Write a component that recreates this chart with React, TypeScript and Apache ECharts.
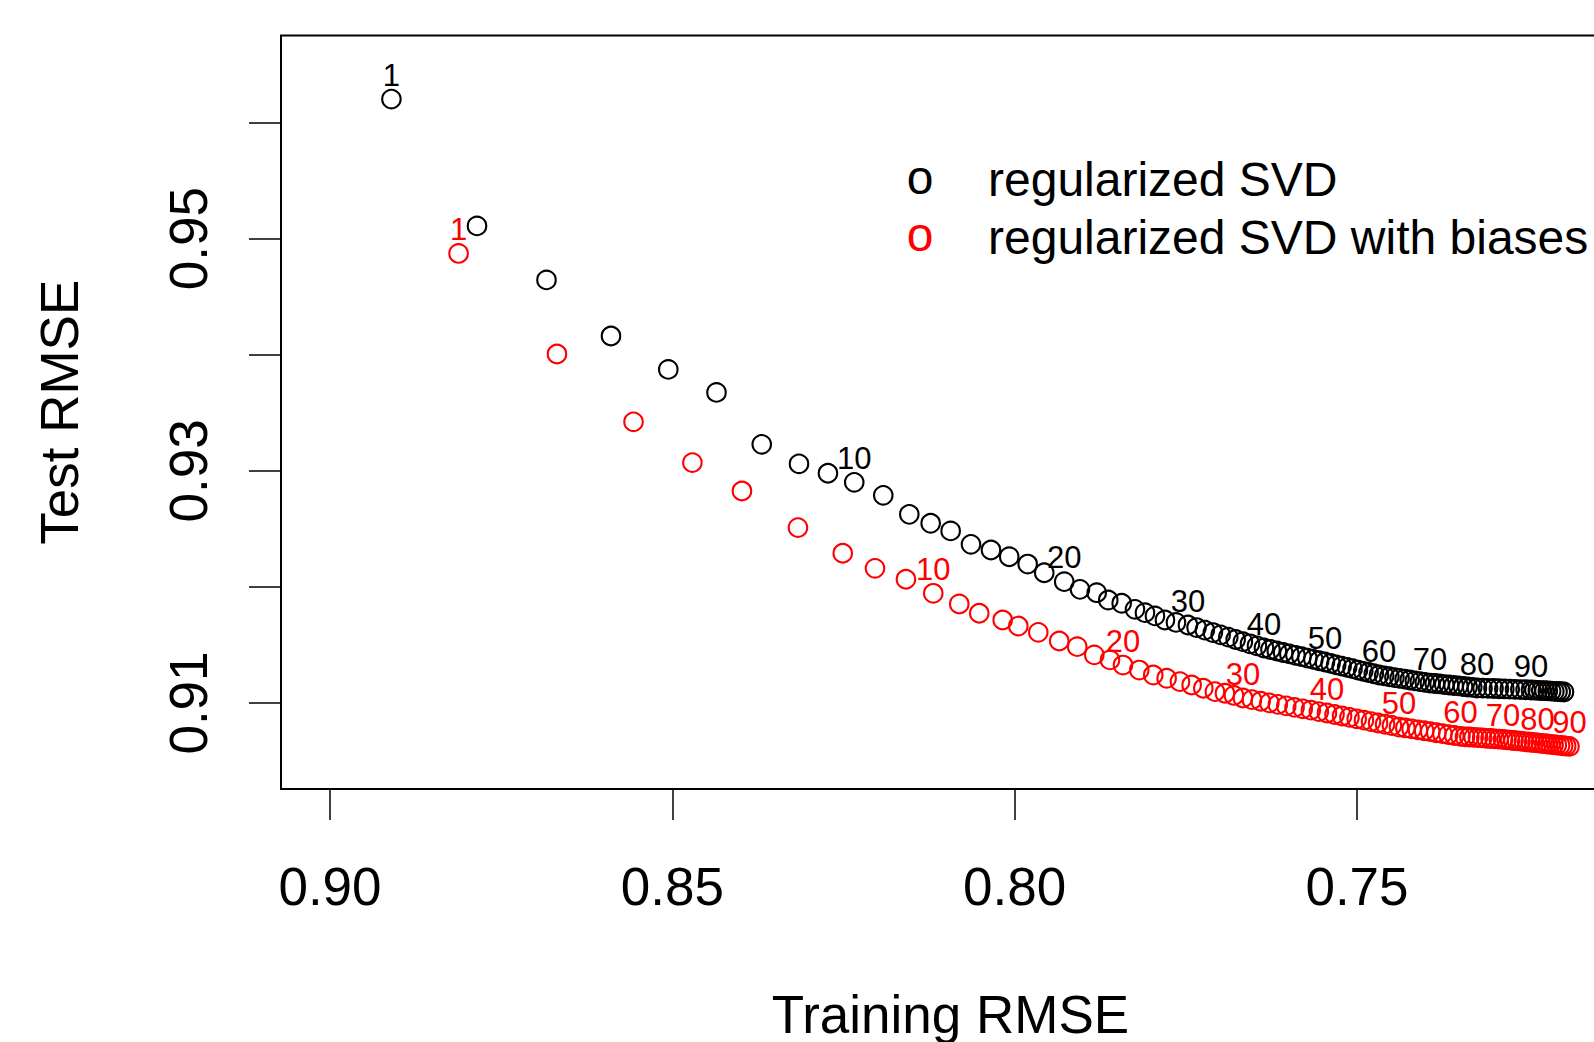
import React, { useEffect, useRef } from "react";
import * as echarts from "echarts";

// Training RMSE (x) and Test RMSE (y) per iteration
const BLACK_X = [
  0.89103, 0.87853, 0.86838, 0.85896, 0.85059, 0.84355, 0.83694, 0.8315, 0.82727, 0.82343,
  0.81919, 0.81539, 0.81227, 0.80935, 0.80638, 0.80346, 0.80079, 0.7981, 0.79568, 0.79276,
  0.79046, 0.78802, 0.78633, 0.78437, 0.78243, 0.78097, 0.77951, 0.77805, 0.77644, 0.77469,
  0.77343, 0.77222, 0.77105, 0.76991, 0.7688, 0.76772, 0.76667, 0.76563, 0.76461, 0.76359,
  0.76264, 0.76171, 0.76079, 0.75988, 0.75899, 0.75811, 0.75724, 0.75637, 0.75553, 0.75468,
  0.75386, 0.75304, 0.75224, 0.75144, 0.75065, 0.74986, 0.74909, 0.74831, 0.74755, 0.74679,
  0.74603, 0.74527, 0.74453, 0.74378, 0.74304, 0.7423, 0.74155, 0.74082, 0.74009, 0.73935,
  0.73864, 0.73794, 0.73726, 0.73657, 0.73588, 0.7352, 0.73451, 0.73384, 0.73317, 0.73248,
  0.73166, 0.73086, 0.73006, 0.72927, 0.72848, 0.72769, 0.72692, 0.72614, 0.72537, 0.72459,
  0.72408, 0.72359, 0.72309, 0.72261, 0.72213, 0.72164, 0.72118, 0.72071, 0.72024, 0.71977,
];
const BLACK_Y = [
  0.96202, 0.95109, 0.94644, 0.94161, 0.93873, 0.93675, 0.93228, 0.9306, 0.92979, 0.92901,
  0.92789, 0.92625, 0.92548, 0.92482, 0.92367, 0.92318, 0.9226, 0.92197, 0.92122, 0.92045,
  0.91979, 0.9195, 0.91887, 0.91859, 0.91807, 0.91778, 0.9175, 0.91715, 0.91694, 0.91672,
  0.9165, 0.91628, 0.91607, 0.91587, 0.91567, 0.91547, 0.91528, 0.9151, 0.91492, 0.91474,
  0.91461, 0.91448, 0.91435, 0.91423, 0.91411, 0.91399, 0.91387, 0.91376, 0.91364, 0.91353,
  0.91341, 0.91329, 0.91318, 0.91307, 0.91296, 0.91284, 0.91273, 0.91263, 0.91252, 0.91241,
  0.91234, 0.91226, 0.91219, 0.91212, 0.91205, 0.91198, 0.91191, 0.91184, 0.91178, 0.91172,
  0.91168, 0.91164, 0.91159, 0.91155, 0.91151, 0.91147, 0.91142, 0.91138, 0.91134, 0.91129,
  0.91128, 0.91126, 0.91125, 0.91123, 0.91121, 0.91119, 0.91118, 0.91116, 0.91114, 0.91112,
  0.91111, 0.91109, 0.91107, 0.91106, 0.91104, 0.91102, 0.911, 0.91099, 0.91097, 0.91095,
];
const RED_X = [
  0.88122, 0.86685, 0.85567, 0.84707, 0.83983, 0.83165, 0.82511, 0.8204, 0.81588, 0.81189,
  0.80809, 0.80517, 0.80175, 0.79947, 0.79655, 0.79349, 0.79086, 0.78837, 0.78608, 0.78418,
  0.7818, 0.77976, 0.7778, 0.77586, 0.77415, 0.77245, 0.77075, 0.76929, 0.76797, 0.76666,
  0.76534, 0.76406, 0.7628, 0.76156, 0.76033, 0.75912, 0.75792, 0.75674, 0.75557, 0.75439,
  0.75328, 0.75218, 0.7511, 0.75004, 0.74898, 0.74795, 0.74692, 0.7459, 0.7449, 0.74387,
  0.74294, 0.74202, 0.7411, 0.74019, 0.7393, 0.73841, 0.73753, 0.73666, 0.73578, 0.73489,
  0.73423, 0.73359, 0.73296, 0.73233, 0.73172, 0.73111, 0.73049, 0.7299, 0.7293, 0.72868,
  0.72816, 0.72765, 0.72714, 0.72662, 0.72613, 0.72563, 0.72513, 0.72464, 0.72414, 0.72364,
  0.72316, 0.72268, 0.72221, 0.72175, 0.72128, 0.72081, 0.72034, 0.71989, 0.71944, 0.71897,
];
const RED_Y = [
  0.94872, 0.94006, 0.93422, 0.93071, 0.92826, 0.92511, 0.9229, 0.9216, 0.92066, 0.91945,
  0.91853, 0.91773, 0.91715, 0.91663, 0.91609, 0.91534, 0.91485, 0.91414, 0.91371, 0.91327,
  0.91284, 0.91241, 0.91213, 0.91184, 0.91155, 0.91127, 0.91098, 0.91084, 0.91065, 0.91043,
  0.91029, 0.91015, 0.91001, 0.90988, 0.90975, 0.90962, 0.9095, 0.90938, 0.90926, 0.90914,
  0.90901, 0.90888, 0.90876, 0.90864, 0.90852, 0.9084, 0.90828, 0.90817, 0.90806, 0.90793,
  0.90785, 0.90777, 0.90769, 0.90761, 0.90753, 0.90744, 0.90736, 0.90728, 0.9072, 0.90712,
  0.90709, 0.90707, 0.90704, 0.90702, 0.90699, 0.90696, 0.90694, 0.90691, 0.90689, 0.90686,
  0.90683, 0.9068, 0.90677, 0.90674, 0.90671, 0.90668, 0.90665, 0.90662, 0.90659, 0.90656,
  0.90653, 0.9065, 0.90647, 0.90644, 0.90641, 0.90638, 0.90635, 0.90632, 0.90629, 0.90626,
];

const LABELLED_ITERATIONS = [1, 10, 20, 30, 40, 50, 60, 70, 80, 90];
const X_TICKS = [0.9, 0.85, 0.8, 0.75];
const Y_TICKS = [0.91, 0.92, 0.93, 0.94, 0.95, 0.96];
const Y_TICK_LABELS = [0.91, 0.93, 0.95];
const SERIES_NAMES = ["regularized SVD", "regularized SVD with biases"];
const SERIES_COLORS = ["#000000", "#ff0000"];

const FONT = "'Liberation Sans', Arial, Helvetica, sans-serif";

function buildData(xs: number[], ys: number[]) {
  return xs.map((x, i) => ({
    value: [x, ys[i]],
    name: String(i + 1),
    label: { show: LABELLED_ITERATIONS.includes(i + 1) },
  }));
}

export default function App() {
  const ref = useRef<HTMLDivElement>(null);

  useEffect(() => {
    if (!ref.current) return;
    const chart = echarts.init(ref.current, null, { renderer: "svg" });

    const mkSeries = (name: string, color: string, xs: number[], ys: number[]) => ({
      type: "scatter",
      name,
      data: buildData(xs, ys),
      symbol: "circle",
      symbolSize: 18.5,
      silent: true,
      itemStyle: { color: "rgba(0,0,0,0)", borderColor: color, borderWidth: 2.1, opacity: 1 },
      label: {
        show: false,
        position: "top",
        distance: -2,
        formatter: "{b}",
        color,
        fontSize: 31,
        lineHeight: 31,
        fontFamily: FONT,
      },
      emphasis: { disabled: true },
    });

    const legendText = (text: string, x: number, y: number, color: string, align: string) => ({
      type: "text",
      x,
      y,
      silent: true,
      style: {
        text,
        fill: color,
        font: `48px ${FONT}`,
        textAlign: align,
        textVerticalAlign: "middle",
      },
    });

    chart.setOption({
      animation: false,
      backgroundColor: "#ffffff",
      grid: {
        left: 281,
        top: 35.5,
        right: -26,
        bottom: 253,
        outerBoundsMode: "none",
        containLabel: false,
        show: true,
        borderColor: "#000000",
        borderWidth: 2,
        backgroundColor: "transparent",
      },
      xAxis: {
        type: "value",
        inverse: true,
        min: 0.711586,
        max: 0.907157,
        axisLine: { show: false },
        splitLine: { show: false },
        axisTick: {
          show: true,
          length: 31,
          customValues: X_TICKS,
          lineStyle: { color: "#000000", width: 1.5 },
        },
        axisLabel: {
          customValues: X_TICKS,
          formatter: (v: number) => v.toFixed(2),
          fontSize: 53,
          lineHeight: 53,
          color: "#000000",
          fontFamily: FONT,
          margin: 71,
        },
        name: "Training RMSE",
        nameLocation: "middle",
        nameGap: 199,
        nameTextStyle: { fontSize: 53, lineHeight: 53, color: "#000000", fontFamily: FONT },
      },
      yAxis: {
        type: "value",
        min: 0.902593,
        max: 0.967494,
        axisLine: { show: false },
        splitLine: { show: false },
        axisTick: {
          show: true,
          length: 32,
          customValues: Y_TICKS,
          lineStyle: { color: "#000000", width: 1.5 },
        },
        axisLabel: {
          customValues: Y_TICK_LABELS,
          formatter: (v: number) => v.toFixed(2),
          rotate: 90,
          fontSize: 53,
          lineHeight: 53,
          color: "#000000",
          fontFamily: FONT,
          margin: 66,
        },
        name: "Test RMSE",
        nameLocation: "middle",
        nameGap: 195,
        nameTextStyle: { fontSize: 53, lineHeight: 53, color: "#000000", fontFamily: FONT },
      },
      graphic: [
        legendText("o", 920, 177, SERIES_COLORS[0], "center"),
        legendText(SERIES_NAMES[0], 988, 179.5, "#000000", "left"),
        legendText("o", 920, 234, SERIES_COLORS[1], "center"),
        legendText(SERIES_NAMES[1], 988, 237.5, "#000000", "left"),
      ],
      series: [
        mkSeries(SERIES_NAMES[0], SERIES_COLORS[0], BLACK_X, BLACK_Y),
        mkSeries(SERIES_NAMES[1], SERIES_COLORS[1], RED_X, RED_Y),
      ],
    });

    return () => chart.dispose();
  }, []);

  return (
    <div
      ref={ref}
      style={{ position: "fixed", left: 0, top: 0, width: 1594, height: 1042, background: "#fff" }}
    />
  );
}
